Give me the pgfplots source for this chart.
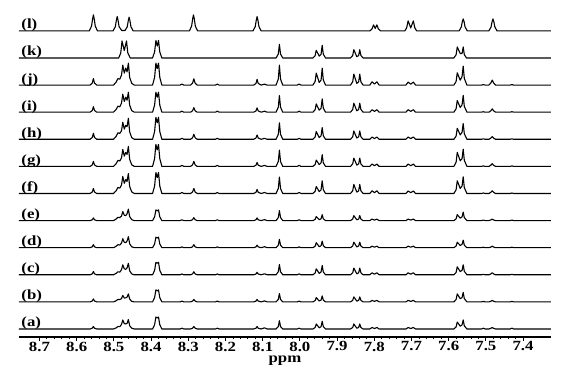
\documentclass[border=0pt]{standalone}
\usepackage{fontspec}
\setmainfont{Liberation Serif}[FakeStretch=1.2]
\usepackage{pgfplots}
\usepackage{pgfplotstable}
\pgfplotsset{compat=1.18}

% columns a..j : intensities (px) of spectra (a)..(j)
\pgfplotstableread{
x a b c d e f g h i j
8.755 0 0 0 0 0 0 0 0 0 0
8.564 0 0 0 0 0 0 0 0 0 0
8.558 0.8 0.9 1.0 0.9 0.8 1.5 1.5 1.8 1.7 2.0
8.555 2.5 3.0 3.3 3.0 2.7 5.0 5.0 6.0 5.5 6.5
8.552 0.8 0.9 1.0 0.9 0.8 1.5 1.5 1.8 1.7 2.0
8.546 0 0 0 0 0 0 0 0 0 0
8.501 0 0 0 0 0 0 0 0 0 0
8.494 1.1 1.1 1.4 1.4 1.5 2.7 2.7 2.9 2.7 2.9
8.489 2.5 2.5 3.0 3.0 3.3 6.0 6.0 6.5 6.0 6.5
8.484 2.3 2.3 2.7 2.7 3.0 5.4 5.4 5.9 5.4 5.9
8.4795 4.5 3.3 5.0 4.5 4.5 8.5 8.5 8.5 9.0 10.0
8.476 9.0 6.5 10.0 9.0 9.0 17.0 17.0 17.0 18.0 20.0
8.472 5.4 3.9 6.0 5.4 5.4 10.2 10.2 10.2 10.8 12.0
8.468 5.0 4.0 5.5 5.0 5.0 14.0 14.0 14.0 15.0 17.0
8.4645 5.7 4.8 6.9 6.6 6.9 12.0 12.0 12.6 12.0 13.2
8.461 9.5 8.0 11.5 11.0 11.5 20.0 20.0 21.0 20.0 22.0
8.4575 3.3 2.8 4.0 3.9 4.0 7.0 7.0 7.4 7.0 7.7
8.452 0.8 0.6 0.9 0.9 0.9 1.6 1.6 1.7 1.6 1.8
8.445 0 0 0 0 0 0 0 0 0 0
8.396 0 0 0 0 0 0 0 0 0 0
8.3905 4.2 4.2 4.4 3.7 3.7 7.4 7.7 7.7 7.0 7.7
8.387 12.0 12.0 12.5 10.5 10.7 21.0 22.0 22.0 20.0 22.0
8.3835 11.0 11.0 11.5 9.7 9.8 15.8 16.5 16.5 15.0 16.5
8.380 12.0 12.0 12.5 10.5 10.7 21.0 22.0 22.0 20.0 22.0
8.3765 4.2 4.2 4.4 3.7 3.7 7.4 7.7 7.7 7.0 7.7
8.371 0 0 0 0 0 0 0 0 0 0
8.322 0 0 0 0 0 0 0 0 0 0
8.317 0.8 0.8 0.8 0.8 0.8 1.0 1.0 1.0 1.0 1.0
8.312 0 0 0 0 0 0 0 0 0 0
8.294 0 0 0 0 0 0 0 0 0 0
8.2885 0.8 0.8 0.9 0.9 0.9 1.5 1.5 1.5 1.4 1.9
8.285 2.5 2.5 3.0 3.0 3.0 5.0 5.0 5.0 4.5 6.3
8.2815 0.8 0.8 0.9 0.9 0.9 1.5 1.5 1.5 1.4 1.9
8.276 0 0 0 0 0 0 0 0 0 0
8.227 0 0 0 0 0 0 0 0 0 0
8.222 0.8 0.8 0.8 0.8 0.8 1.0 1.0 1.0 1.0 1.0
8.217 0 0 0 0 0 0 0 0 0 0
8.124 0 0 0 0 0 0 0 0 0 0
8.118 0.8 0.8 0.8 0.8 0.8 1.2 1.2 1.3 1.3 1.7
8.115 2.5 2.5 2.5 2.5 2.7 4.0 4.0 4.3 4.3 5.7
8.112 0.8 0.8 0.8 0.8 0.8 1.2 1.2 1.3 1.3 1.7
8.104 0 0 0 0 0 0 0 0 0 0
8.095 1.2 1.0 1.0 1.0 1.0 1.0 1.0 1.0 1.0 1.0
8.088 0 0 0 0 0 0 0 0 0 0
8.064 0 0 0 0 0 0 0 0 0 0
8.058 2.5 2.5 3.1 2.5 3.0 5.0 4.9 5.0 5.0 6.0
8.055 8.3 8.3 10.3 8.3 10.0 16.5 16.3 16.5 16.7 20.0
8.052 2.5 2.5 3.1 2.5 3.0 5.0 4.9 5.0 5.0 6.0
8.046 0 0 0 0 0 0 0 0 0 0
8.007 0 0 0 0 0 0 0 0 0 0
8.002 0.8 0.8 1.0 0.8 0.8 1.0 1.0 1.0 1.0 1.0
7.997 0 0 0 0 0 0 0 0 0 0
7.965 0 0 0 0 0 0 0 0 0 0
7.959 1.5 1.3 1.8 1.5 1.2 2.1 1.9 2.3 2.5 3.6
7.956 5.0 4.3 6.0 5.0 4.0 7.0 6.3 7.7 8.3 12.0
7.948 1.2 0.9 1.4 1.0 0.9 1.9 1.8 1.8 2.0 2.6
7.943 2.3 1.8 2.8 2.0 1.8 3.8 3.5 3.5 4.0 5.1
7.940 7.7 6.0 9.3 6.5 6.0 12.7 11.7 11.7 13.3 17.0
7.937 2.3 1.8 2.8 2.0 1.8 3.8 3.5 3.5 4.0 5.1
7.931 0 0 0 0 0 0 0 0 0 0
7.864 0 0 0 0 0 0 0 0 0 0
7.858 1.5 1.5 2.0 1.7 1.5 2.7 2.5 2.5 2.7 3.3
7.855 5.0 5.0 6.7 5.5 5.0 9.0 8.3 8.3 9.0 11.0
7.847 0.8 0.8 1.0 0.8 0.8 1.4 1.3 1.3 1.4 1.7
7.842 1.5 1.5 2.0 1.7 1.5 2.7 2.5 2.5 2.7 3.3
7.839 5.0 5.0 6.7 5.5 5.0 9.0 8.3 8.3 9.0 11.0
7.836 1.5 1.5 2.0 1.7 1.5 2.7 2.5 2.5 2.7 3.3
7.830 0 0 0 0 0 0 0 0 0 0
7.812 0 0 0 0 0 0 0 0 0 0
7.806 1.5 1.5 2.0 1.5 1.5 2.7 2.3 2.3 2.5 3.3
7.7995 0.5 0.5 0.6 0.5 0.5 0.8 0.7 0.7 0.8 1.0
7.793 1.5 1.5 2.0 1.5 1.5 2.7 2.3 2.3 2.5 3.3
7.787 0 0 0 0 0 0 0 0 0 0
7.715 0 0 0 0 0 0 0 0 0 0
7.709 1.5 1.5 2.0 1.5 1.5 2.5 2.3 2.3 2.5 3.0
7.702 0.5 0.5 0.6 0.5 0.5 0.8 0.7 0.7 0.8 0.9
7.695 1.5 1.5 2.0 1.5 1.5 2.5 2.3 2.3 2.5 3.0
7.689 0 0 0 0 0 0 0 0 0 0
7.586 0 0 0 0 0 0 0 0 0 0
7.580 2.1 2.4 2.4 1.7 1.8 3.8 4.2 3.3 3.5 3.7
7.577 7.0 8.0 8.0 5.5 6.0 12.7 14.0 11.0 11.7 12.3
7.569 2.8 3.2 3.2 2.2 2.4 5.1 5.6 4.4 4.7 4.9
7.564 4.1 4.3 4.5 3.4 3.8 7.5 7.8 7.1 7.5 8.6
7.561 9.0 9.5 10.0 7.5 8.5 16.7 17.3 15.7 16.7 19.0
7.558 3.2 3.3 3.5 2.6 3.0 5.8 6.1 5.5 5.8 6.7
7.551 0 0 0 0 0 0 0 0 0 0
7.512 0 0 0 0 0 0 0 0 0 0
7.507 0.8 0.5 0.5 0.5 0.5 0.5 0.5 0.5 0.5 0.5
7.502 0 0 0 0 0 0 0 0 0 0
7.492 0 0 0 0 0 0 0 0 0 0
7.487 0.6 0.6 0.8 0.6 0.6 1.1 1.1 1.1 1.3 2.0
7.483 1.5 1.5 2.0 1.5 1.5 2.7 2.7 2.7 3.3 5.0
7.479 0.6 0.6 0.8 0.6 0.6 1.1 1.1 1.1 1.3 2.0
7.474 0 0 0 0 0 0 0 0 0 0
7.435 0 0 0 0 0 0 0 0 0 0
7.430 0.8 0.5 0.5 0.5 0.5 0.5 0.5 0.5 0.5 0.5
7.425 0 0 0 0 0 0 0 0 0 0
7.325 0 0 0 0 0 0 0 0 0 0
}\specs

% spectrum (k)
\pgfplotstableread{
x y
8.755 0
8.487 0
8.4815 5.0
8.478 17.0
8.472 7.5
8.466 17.0
8.4625 5.0
8.456 0
8.396 0
8.3905 6.0
8.387 17.5
8.3835 12.0
8.380 17.5
8.3765 6.0
8.371 0
8.064 0
8.058 4.0
8.055 13.7
8.052 4.0
8.046 0
7.965 0
7.959 2.3
7.956 7.7
7.948 1.9
7.943 3.8
7.940 12.7
7.937 3.8
7.931 0
7.864 0
7.858 2.5
7.855 8.3
7.847 1.3
7.842 2.5
7.839 8.3
7.836 2.5
7.830 0
7.586 0
7.580 3.3
7.577 11.0
7.569 4.5
7.564 4.5
7.561 11.0
7.558 3.3
7.552 0
7.325 0
}\speck

% spectrum (l)
\pgfplotstableread{
x y
8.755 0
8.566 0
8.560 4.8
8.5572 12.0
8.555 16.0
8.5528 12.0
8.550 4.8
8.544 0
8.502 0
8.496 4.3
8.4932 10.7
8.491 14.3
8.4888 10.7
8.486 4.3
8.479 0.4
8.470 0.4
8.464 4.1
8.4612 10.3
8.459 13.7
8.4568 10.3
8.454 4.1
8.448 0
8.297 0
8.291 4.8
8.2882 12.0
8.286 16.0
8.2838 12.0
8.281 4.8
8.275 0
8.126 0
8.120 4.3
8.1172 10.7
8.115 14.3
8.1128 10.7
8.110 4.3
8.104 0
7.812 0
7.806 2.0
7.802 6.0
7.7975 2.5
7.793 6.0
7.789 2.0
7.783 0
7.718 0
7.713 3.0
7.709 10.0
7.702 3.0
7.695 10.0
7.691 3.0
7.686 0
7.572 0
7.566 4.0
7.5635 9.0
7.561 12.0
7.5585 9.0
7.556 4.0
7.550 0
7.492 0
7.486 4.0
7.4835 9.0
7.481 12.0
7.4785 9.0
7.476 4.0
7.470 0
7.325 0
}\specl

\begin{document}
\begin{tikzpicture}
\useasboundingbox (-19pt,-49pt) rectangle (544pt,337pt);
\begin{axis}[
  at={(0,0)}, anchor=south west,
  width=532pt, height=337pt, scale only axis,
  xmin=7.325, xmax=8.755, ymin=0, ymax=337,
  x dir=reverse,
  axis x line=bottom, axis y line=none,
  x axis line style={-, line width=1.4pt},
  xtick={7.4,7.5,7.6,7.7,7.8,7.9,8.0,8.1,8.2,8.3,8.4,8.5,8.6,8.7},
  xticklabels={7.4,7.5,7.6,7.7,7.8,7.9,8.0,8.1,8.2,8.3,8.4,8.5,8.6,8.7},
  minor x tick num=4,
  tick align=outside,
  major tick length=4pt, minor tick length=2pt,
  every tick/.style={black, line width=0.8pt},
  xticklabel style={font=\bfseries\fontsize{14}{14}\selectfont, inner sep=0.5pt},
  xlabel={ppm},
  xlabel style={font=\bfseries\fontsize{14}{14}\selectfont, at={(axis description cs:0.5,0)}, anchor=center, yshift=-24pt},
  clip=false,
]
\tikzset{sp/.style={black, line width=1.1pt, line join=round, mark=none, solid}}
\addplot[sp] table[x=x, y expr=\thisrow{a}+8] {\specs};
\addplot[sp] table[x=x, y expr=\thisrow{b}+35.1] {\specs};
\addplot[sp] table[x=x, y expr=\thisrow{c}+62.2] {\specs};
\addplot[sp] table[x=x, y expr=\thisrow{d}+89.3] {\specs};
\addplot[sp] table[x=x, y expr=\thisrow{e}+116.4] {\specs};
\addplot[sp] table[x=x, y expr=\thisrow{f}+143.5] {\specs};
\addplot[sp] table[x=x, y expr=\thisrow{g}+170.6] {\specs};
\addplot[sp] table[x=x, y expr=\thisrow{h}+197.7] {\specs};
\addplot[sp] table[x=x, y expr=\thisrow{i}+224.8] {\specs};
\addplot[sp] table[x=x, y expr=\thisrow{j}+251.9] {\specs};
\addplot[sp] table[x=x, y expr=\thisrow{y}+279.0] {\speck};
\addplot[sp] table[x=x, y expr=\thisrow{y}+306.1] {\specl};

\tikzset{lab/.style={anchor=base west, inner sep=0pt, font=\bfseries\fontsize{14}{14}\selectfont}}
\node[lab] at (axis cs:8.749,10)    {(a)};
\node[lab] at (axis cs:8.749,37.1)  {(b)};
\node[lab] at (axis cs:8.749,64.2)  {(c)};
\node[lab] at (axis cs:8.749,91.3)  {(d)};
\node[lab] at (axis cs:8.749,118.4) {(e)};
\node[lab] at (axis cs:8.749,145.5) {(f)};
\node[lab] at (axis cs:8.749,172.6) {(g)};
\node[lab] at (axis cs:8.749,199.7) {(h)};
\node[lab] at (axis cs:8.749,226.8) {(i)};
\node[lab] at (axis cs:8.749,253.9) {(j)};
\node[lab] at (axis cs:8.749,281.0) {(k)};
\node[lab] at (axis cs:8.749,308.1) {(l)};
\end{axis}
\end{tikzpicture}
\end{document}
